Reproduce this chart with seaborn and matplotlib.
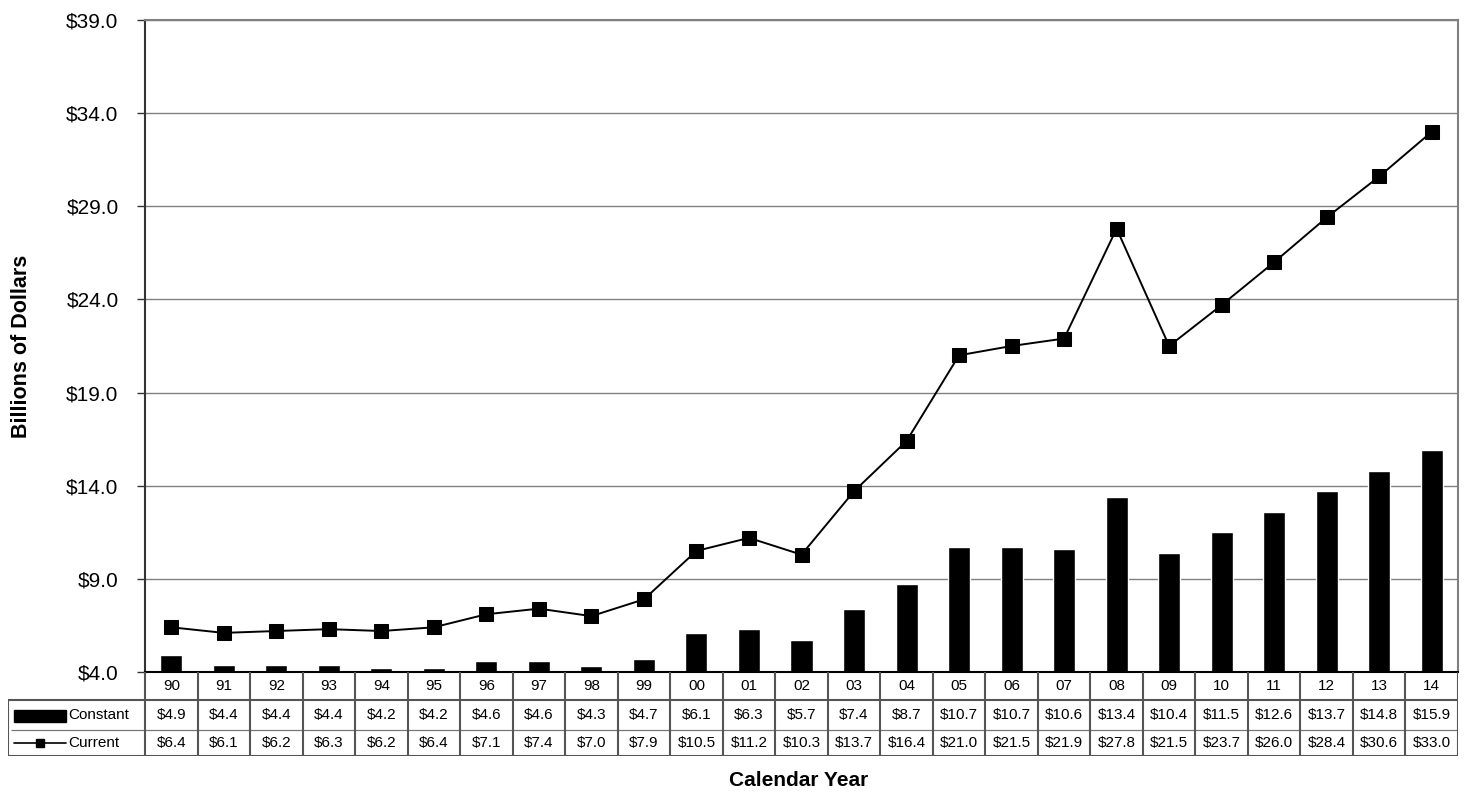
import numpy as np
import pandas as pd
import matplotlib
matplotlib.use("Agg")
import matplotlib.pyplot as plt
import seaborn as sns

years = ["90", "91", "92", "93", "94", "95", "96", "97", "98", "99",
         "00", "01", "02", "03", "04", "05", "06", "07", "08", "09",
         "10", "11", "12", "13", "14"]
constant = [4.9, 4.4, 4.4, 4.4, 4.2, 4.2, 4.6, 4.6, 4.3, 4.7,
            6.1, 6.3, 5.7, 7.4, 8.7, 10.7, 10.7, 10.6, 13.4, 10.4,
            11.5, 12.6, 13.7, 14.8, 15.9]
current = [6.4, 6.1, 6.2, 6.3, 6.2, 6.4, 7.1, 7.4, 7.0, 7.9,
           10.5, 11.2, 10.3, 13.7, 16.4, 21.0, 21.5, 21.9, 27.8, 21.5,
           23.7, 26.0, 28.4, 30.6, 33.0]
y_ticks = [4.0, 9.0, 14.0, 19.0, 24.0, 29.0, 34.0, 39.0]

sns.set_style("white")
plt.rcParams["font.family"] = ["Liberation Sans", "DejaVu Sans"]
plt.rcParams["text.color"] = "black"
plt.rcParams["axes.labelcolor"] = "black"
plt.rcParams["ytick.labelcolor"] = "black"

W, H = 1467, 794
fig = plt.figure(figsize=(W / 100, H / 100), dpi=100)

# main plot area in pixels
px_l, px_r, px_t, px_b = 145, 1458, 20, 672
ax = fig.add_axes([px_l / W, 1 - px_b / H, (px_r - px_l) / W, (px_b - px_t) / H])

df = pd.DataFrame({"year": years, "constant": constant, "current": current})
sns.barplot(data=df, x="year", y="constant", color="black", width=0.42,
            saturation=1, ax=ax)
df["pos"] = np.arange(len(years))
sns.lineplot(data=df, x="pos", y="current", color="black", lw=1.4,
             marker="s", markersize=10, markeredgecolor="black", ax=ax)

ax.set_xlim(-0.5, len(years) - 0.5)
ax.set_ylim(4, 39)
ax.set_yticks(y_ticks)
ax.set_yticklabels([f"${v:.1f}" for v in y_ticks], fontsize=15, color="black")
ax.set_xticks([])
ax.set_xlabel("")
ax.set_ylabel("Billions of Dollars", fontsize=15.5, fontweight="bold",
              color="black")
ax.yaxis.label.set_va("center")
ax.yaxis.set_label_coords((22 - px_l) / (px_r - px_l), 0.5)
ax.grid(axis="y", color="#808080", lw=1)
ax.set_axisbelow(True)
ax.tick_params(axis="y", which="major", left=True, length=6, width=1,
               color="#333333", pad=13)
for s in ["top", "right"]:
    ax.spines[s].set_color("#808080")
    ax.spines[s].set_linewidth(1.5)
ax.spines["left"].set_color("#333333")
ax.spines["left"].set_linewidth(1.5)
ax.spines["bottom"].set_color("black")
ax.spines["bottom"].set_linewidth(1.5)

# data table below the plot, drawn in pixel coordinates
t_l, t_r, t_t, t_b = 8, 1458, 672, 756
tax = fig.add_axes([t_l / W, 1 - t_b / H, (t_r - t_l) / W, (t_b - t_t) / H])
tax.set_xlim(t_l, t_r)
tax.set_ylim(t_b, t_t)
tax.axis("off")

col_w = (px_r - px_l) / len(years)
r0, r1, r2, r3 = 672, 700, 730, 756
line_c = "#555555"
tax.hlines([r1, r3], t_l, px_r, color=line_c, lw=1.5)
tax.hlines(r2, t_l + 3, px_r, color="#777777", lw=0.9)
tax.vlines([t_l], r1, r3, color=line_c, lw=1.5)
for i in range(len(years) + 1):
    tax.vlines(px_l + i * col_w, r0, r3, color=line_c, lw=1.5)

for i, yr in enumerate(years):
    cx = px_l + (i + 0.5) * col_w
    tax.text(cx, (r0 + r1) / 2, yr, ha="center", va="center", fontsize=11)
    tax.text(cx, (r1 + r2) / 2, f"${constant[i]:.1f}", ha="center",
             va="center", fontsize=11)
    tax.text(cx, (r2 + r3) / 2, f"${current[i]:.1f}", ha="center",
             va="center", fontsize=11)

# legend keys in the row-label cells
tax.add_patch(plt.Rectangle((14, 710), 52, 12, color="black"))
tax.text(68, (r1 + r2) / 2, "Constant", ha="left", va="center", fontsize=11)
tax.plot([14, 66], [743, 743], color="black", lw=1.2)
tax.plot([40], [743], marker="s", color="black", markersize=6)
tax.text(68, (r2 + r3) / 2, "Current", ha="left", va="center", fontsize=11)

fig.text(799 / W, 1 - 781 / H, "Calendar Year", ha="center",
         va="center", fontsize=15, fontweight="bold")

fig.savefig("out.png", dpi=100)
plt.close(fig)
